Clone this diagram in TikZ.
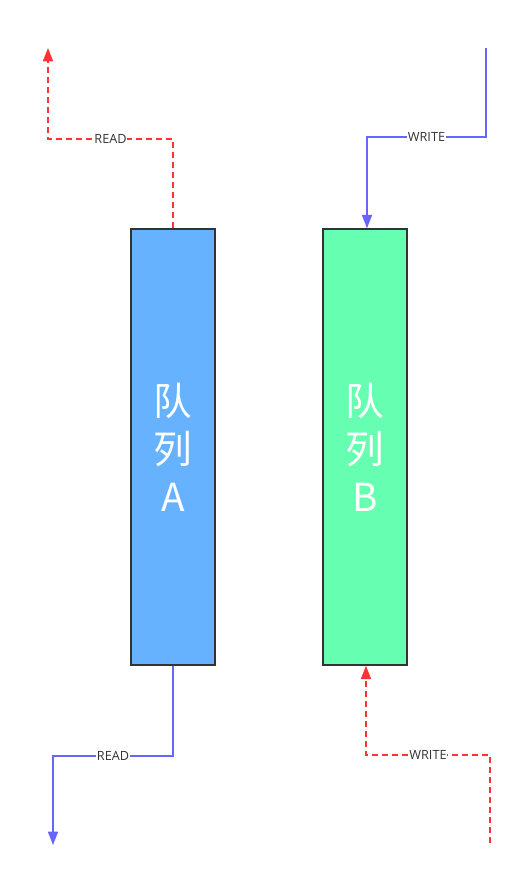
\documentclass[tikz,border=0pt]{standalone}
\usepackage{fontspec}
\setmainfont{Open Sans}
\newfontfamily\cjk{Noto Sans CJK SC}
\usetikzlibrary{positioning, arrows.meta}

\definecolor{qablue}{HTML}{66B2FF}
\definecolor{qbgreen}{HTML}{66FFB2}
\definecolor{wireblue}{HTML}{6666FF}
\definecolor{wirered}{HTML}{FF3333}
\definecolor{edgegray}{HTML}{333333}

\tikzset{
    queue/.style={draw=edgegray, line width=1.1pt, minimum width=63pt, minimum height=327pt,
        inner sep=0pt, text=white, font=\cjk\fontsize{29}{36}\selectfont, align=center},
    solidwire/.style={draw=wireblue, line width=1.2pt, -{Triangle[length=10pt, width=7.5pt]}},
    dashwire/.style={draw=wirered, line width=1.2pt, dash pattern=on 4.5pt off 3pt,
        -{Triangle[length=10pt, width=7.5pt]}},
    lbl/.style={fill=white, inner sep=0.5pt, text=edgegray, font=\fontsize{9.5}{10}\selectfont}
}

\begin{document}
\begin{tikzpicture}[x=0.75pt, y=-0.75pt, node distance=144pt, on grid]
    \useasboundingbox (0,0) rectangle (523,876);
    % Define queues
    \node[queue, fill=qablue] (qa) at (173,447) {队\\列\\A};
    \node[queue, fill=qbgreen] (qb) [right=of qa] {队\\列\\B};

    % Free ends
    \coordinate (readtop) at (48,48);
    \coordinate (writetop) at (486,48);
    \coordinate (readbot) at (53,845);
    \coordinate (writebot) at (490,843);

    % Define transfers
    \draw[dashwire] (qa.north) -- ++(0,-89) -| (readtop);
    \draw[solidwire] (writetop) -- ++(0,89) -| ([xshift=1.5pt]qb.north);
    \draw[solidwire] (qa.south) -- ++(0,90) -| (readbot);
    \draw[dashwire] (writebot) -- ++(0,-88) -| ([xshift=0.75pt]qb.south);

    % Labels on the wires
    \path (qa.north) -- ++(0,-89) -| node[pos=0.25, lbl] {READ} (readtop);
    \path (writetop) -- ++(0,89) -| node[pos=0.25, lbl] {WRITE} ([xshift=1.5pt]qb.north);
    \path (qa.south) -- ++(0,90) -| node[pos=0.25, lbl] {READ} (readbot);
    \path (writebot) -- ++(0,-88) -| node[pos=0.25, lbl] {WRITE} ([xshift=0.75pt]qb.south);
\end{tikzpicture}
\end{document}
